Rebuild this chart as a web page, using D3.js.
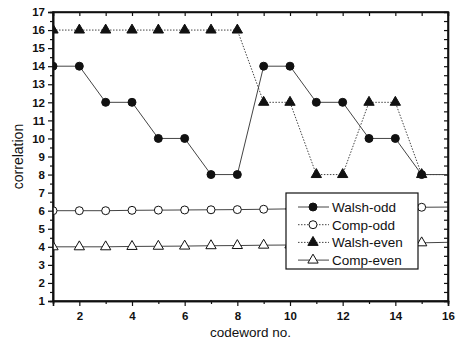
<!DOCTYPE html>
<html>
<head>
<meta charset="utf-8">
<script src="https://cdn.jsdelivr.net/npm/d3@7"></script>
<style>
  body { margin: 0; background: #fff; }
  text { font-family: "Liberation Sans", Arial, sans-serif; fill: #111; }
</style>
</head>
<body>
<svg id="chart" width="463" height="346"></svg>
<script>
// data
const codeword = [1, 2, 3, 4, 5, 6, 7, 8, 9, 10, 11, 12, 13, 14, 15, 16];
const walshOdd  = [14, 14, 12, 12, 10, 10, 8, 8, 14, 14, 12, 12, 10, 10, 8, 8];
const compOdd   = [6, 6, 6, 6.02, 6.03, 6.04, 6.05, 6.06, 6.08, 6.1, 6.11, 6.13, 6.15, 6.17, 6.19, 6.2];
const walshEven = [16, 16, 16, 16, 16, 16, 16, 16, 12, 12, 8, 8, 12, 12, 8, 8];
const compEven  = [4, 4, 4, 4.02, 4.03, 4.04, 4.06, 4.07, 4.09, 4.1, 4.12, 4.14, 4.16, 4.19, 4.22, 4.25];
const xTicks = [2, 4, 6, 8, 10, 12, 14, 16];
const yTicks = d3.range(1, 18);

const margin = { top: 12, left: 53 },
      width = 448 - margin.left,
      height = 301 - margin.top;

const svg = d3.select("#chart")
    .append("g")
    .attr("transform", `translate(${margin.left},${margin.top})`);

const x = d3.scaleLinear().domain([1, 16]).range([0, width]);
const y = d3.scaleLinear().domain([1, 17]).range([height, 0]);

svg.append("clipPath").attr("id", "clip")
    .append("rect").attr("width", width).attr("height", height);

// axes
const axisStyle = g => {
    g.select(".domain").attr("stroke", "#111").attr("stroke-width", 1.6);
    g.selectAll(".tick line").attr("stroke", "#111").attr("stroke-width", 1.2);
    g.selectAll(".tick text").attr("font-size", 11.5).attr("font-weight", "bold")
        .style("font-family", "Liberation Sans, Arial, sans-serif");
};

// minor ticks
svg.append("g").attr("transform", `translate(0,${height})`)
    .call(d3.axisBottom(x).tickValues(d3.range(3, 16, 2)).tickSize(3).tickFormat(""))
    .call(axisStyle);
svg.append("g")
    .call(d3.axisLeft(y).tickValues(d3.range(1.5, 17, 1)).tickSize(3).tickFormat(""))
    .call(axisStyle);
svg.append("g")
    .call(d3.axisTop(x).tickValues(d3.range(2, 16, 1)).tickSize(-4).tickFormat(""))
    .call(axisStyle);
svg.append("g").attr("transform", `translate(${width},0)`)
    .call(d3.axisRight(y).tickValues(d3.range(1.5, 17, 0.5)).tickSize(-4).tickFormat(""))
    .call(axisStyle);

// major ticks with labels
svg.append("g").attr("transform", `translate(0,${height})`)
    .call(d3.axisBottom(x).tickValues(xTicks).tickSize(5).tickPadding(6))
    .call(axisStyle);
svg.append("g")
    .call(d3.axisLeft(y).tickValues(yTicks).tickSize(5).tickPadding(3))
    .call(axisStyle);

// line series
const series = [
    { name: "Walsh-odd",  values: walshOdd,  marker: "circle",   fill: "#111", dash: null },
    { name: "Comp-odd",   values: compOdd,   marker: "circle",   fill: "#fff", dash: null },
    { name: "Walsh-even", values: walshEven, marker: "triangle", fill: "#111", dash: "1.5,1.5" },
    { name: "Comp-even",  values: compEven,  marker: "triangle", fill: "#fff", dash: null }
];

const line = d3.line()
    .x((d, i) => x(codeword[i]))
    .y(d => y(d));

const circleSym = d3.symbol().type(d3.symbolCircle).size(50);
const triSym = d3.symbol().type(d3.symbolTriangle).size(46);

const plot = svg.append("g").attr("clip-path", "url(#clip)");

series.forEach(s => {
    plot.append("path")
        .datum(s.values)
        .attr("d", line)
        .attr("fill", "none")
        .attr("stroke", "#444")
        .attr("stroke-width", 1)
        .attr("stroke-dasharray", s.dash);

    // markers drawn for codewords 1..15, the last point sits under the frame
    plot.selectAll(null)
        .data(s.values.slice(0, 15))
        .enter()
        .append("path")
        .attr("d", s.marker === "circle" ? circleSym : triSym)
        .attr("transform", (d, i) => `translate(${x(codeword[i])},${y(d)})`)
        .attr("fill", s.fill)
        .attr("stroke", "#111")
        .attr("stroke-width", 1);
});

// redraw frame on top
svg.append("rect")
    .attr("width", width).attr("height", height)
    .attr("fill", "none").attr("stroke", "#111").attr("stroke-width", 1.6);

// legend
const legend = svg.append("g").attr("transform", `translate(${286 - margin.left},${193 - margin.top})`);
legend.append("rect")
    .attr("width", 132).attr("height", 76)
    .attr("fill", "#fff").attr("stroke", "#111").attr("stroke-width", 1.2);

series.forEach((s, i) => {
    const row = legend.append("g").attr("transform", `translate(0,${14 + i * 17.7})`);
    row.append("line")
        .attr("x1", 12).attr("x2", 43)
        .attr("stroke", "#444").attr("stroke-width", 1)
        .attr("stroke-dasharray", i === 1 || i === 2 ? "1.5,1.5" : null);
    row.append("path")
        .attr("d", s.marker === "circle" ? circleSym : triSym)
        .attr("transform", "translate(27,0)")
        .attr("fill", s.fill).attr("stroke", "#111");
    row.append("text")
        .attr("x", 46).attr("y", 5)
        .attr("font-size", 13.5)
        .text(s.name);
});

// labels
svg.append("text")
    .attr("x", x(8.5)).attr("y", height + 36)
    .attr("text-anchor", "middle")
    .attr("font-size", 13.5)
    .text("codeword no.");

svg.append("text")
    .attr("transform", "rotate(-90)")
    .attr("x", -height / 2).attr("y", -30)
    .attr("text-anchor", "middle")
    .attr("font-size", 14)
    .text("correlation");
</script>
</body>
</html>
